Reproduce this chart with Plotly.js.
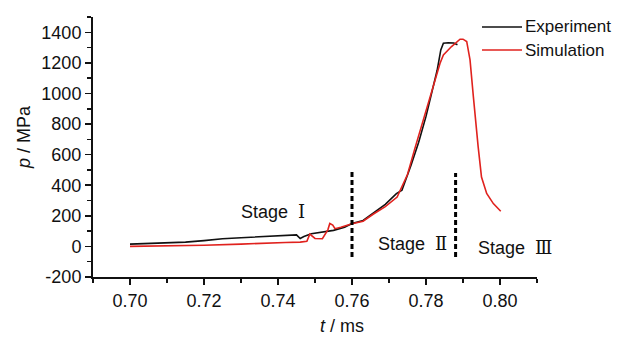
<!DOCTYPE html>
<html>
<head>
<meta charset="utf-8">
<script src="https://cdn.plot.ly/plotly-3.0.1.min.js"></script>
<style>html,body{margin:0;padding:0;background:#fff;}#chart{width:617px;height:338px;}</style>
</head>
<body>
<div id="chart"></div>
<script>
// Experiment (black)
const expT = [0.700,0.705,0.710,0.715,0.720,0.725,0.730,0.735,0.740,0.744,0.745,0.746,0.747,0.749,0.752,0.755,0.758,0.760,0.763,0.766,0.769,0.772,0.7735,0.776,0.778,0.780,0.782,0.783,0.784,0.7847,0.786,0.7875,0.7885];
const expP = [15,18,22,28,38,50,57,63,72,76,75,52,65,83,92,105,125,150,170,225,275,345,367,534,680,850,1040,1150,1285,1328,1332,1330,1318];
// Simulation (red)
const simT = [0.700,0.710,0.720,0.730,0.736,0.742,0.746,0.7478,0.7486,0.7492,0.750,0.752,0.7535,0.754,0.7548,0.7554,0.757,0.760,0.763,0.7657,0.769,0.7722,0.775,0.777,0.779,0.7811,0.7838,0.7847,0.7869,0.7892,0.790,0.791,0.7919,0.7928,0.7932,0.7941,0.795,0.7964,0.7982,0.8002];
const simP = [0,2,8,15,22,26,28,33,80,70,52,50,110,150,140,116,125,148,165,210,260,323,470,641,810,979,1198,1252,1307,1355,1355,1340,1220,979,870,651,454,346,280,230];
const seriesNames = ["Experiment", "Simulation"];
const seriesColors = ["#111111", "#e0221e"];
// Stage boundaries and labels
const stageBounds = [0.760, 0.788];
const stageLineY = [[-70, 495], [-70, 480]];
const stageNames = ["Stage", "Stage", "Stage"];
const stageNumerals = ["Ⅰ", "Ⅱ", "Ⅲ"];
const stageLabelT = [0.7295, 0.7665, 0.7935];
const stageLabelP = [230, 20, -5];
const xTicks = [0.70, 0.72, 0.74, 0.76, 0.78, 0.80];
const yTicks = [-200, 0, 200, 400, 600, 800, 1000, 1200, 1400];

const FONT = "'Liberation Sans', Arial, sans-serif";

const traces = [
  {x: expT, y: expP, name: seriesNames[0], mode: "lines", line: {color: seriesColors[0], width: 1.6}, showlegend: false},
  {x: simT, y: simP, name: seriesNames[1], mode: "lines", line: {color: seriesColors[1], width: 1.6}, showlegend: false}
];

const shapes = stageBounds.map((t, i) => ({
  type: "line", xref: "x", yref: "y", x0: t, x1: t, y0: stageLineY[i][0], y1: stageLineY[i][1],
  line: {color: "#000", width: 3, dash: "5px,3px"}
}));

const annotations = stageNames.map((s, i) => ({
  x: stageLabelT[i], y: stageLabelP[i], xref: "x", yref: "y", xanchor: "left",
  text: s + "  <span style='font-family:DejaVu Serif'>" + stageNumerals[i] + "</span>",
  showarrow: false, font: {family: FONT, size: 18, color: "#111"}
}));
annotations.push({
  xref: "paper", yref: "paper", x: 0.507, y: -0.19, yanchor: "middle", xanchor: "left",
  text: "<i>t</i> / ms", showarrow: false, font: {family: FONT, size: 18, color: "#111"}
});
annotations.push({
  xref: "paper", yref: "paper", x: (24 - 93) / 444, y: (277 - 137) / 260, xanchor: "center", yanchor: "middle",
  textangle: -90, text: "<i>p</i> / MPa", showarrow: false, font: {family: FONT, size: 18, color: "#111"}
});
// legend drawn as line samples + labels
const legendY = [1.0 - (27 - 17) / 260, 1.0 - (50 - 17) / 260];
seriesNames.forEach((n, i) => {
  shapes.push({type: "line", xref: "paper", yref: "paper", x0: (482 - 93) / 444, x1: (522 - 93) / 444,
               y0: legendY[i], y1: legendY[i], line: {color: seriesColors[i], width: 1.6}});
  annotations.push({xref: "paper", yref: "paper", x: (523 - 93) / 444, y: legendY[i], xanchor: "left", yanchor: "middle",
                    text: n, showarrow: false, font: {family: FONT, size: 17, color: "#111"}});
});

const layout = {
  width: 617, height: 338,
  margin: {l: 93, r: 80, t: 17, b: 61},
  paper_bgcolor: "#fff", plot_bgcolor: "#fff",
  font: {family: FONT, size: 18, color: "#111"},
  showlegend: false,
  xaxis: {
    range: [0.69, 0.81], tickvals: xTicks, ticktext: xTicks.map(v => v.toFixed(2)),
    showgrid: false, zeroline: false, showline: true, linecolor: "#111", linewidth: 2,
    ticks: "outside", ticklen: 6, tickwidth: 1.5, tickcolor: "#111",
    minor: {dtick: 0.01, tick0: 0.70, ticks: "outside", ticklen: 4, tickwidth: 1.5, tickcolor: "#111"},
    tickfont: {family: FONT, size: 18, color: "#111"}
  },
  yaxis: {
    range: [-200, 1500], tickvals: yTicks, ticktext: yTicks.map(v => String(v)),
    showgrid: false, zeroline: false, showline: true, linecolor: "#111", linewidth: 2,
    ticks: "outside", ticklen: 6, tickwidth: 1.5, tickcolor: "#111",
    minor: {dtick: 100, tick0: 0, ticks: "outside", ticklen: 4, tickwidth: 1.5, tickcolor: "#111"},
    tickfont: {family: FONT, size: 18, color: "#111"}
  },
  shapes: shapes,
  annotations: annotations
};

Plotly.newPlot("chart", traces, layout, {displayModeBar: false, staticPlot: true});
</script>
</body>
</html>
